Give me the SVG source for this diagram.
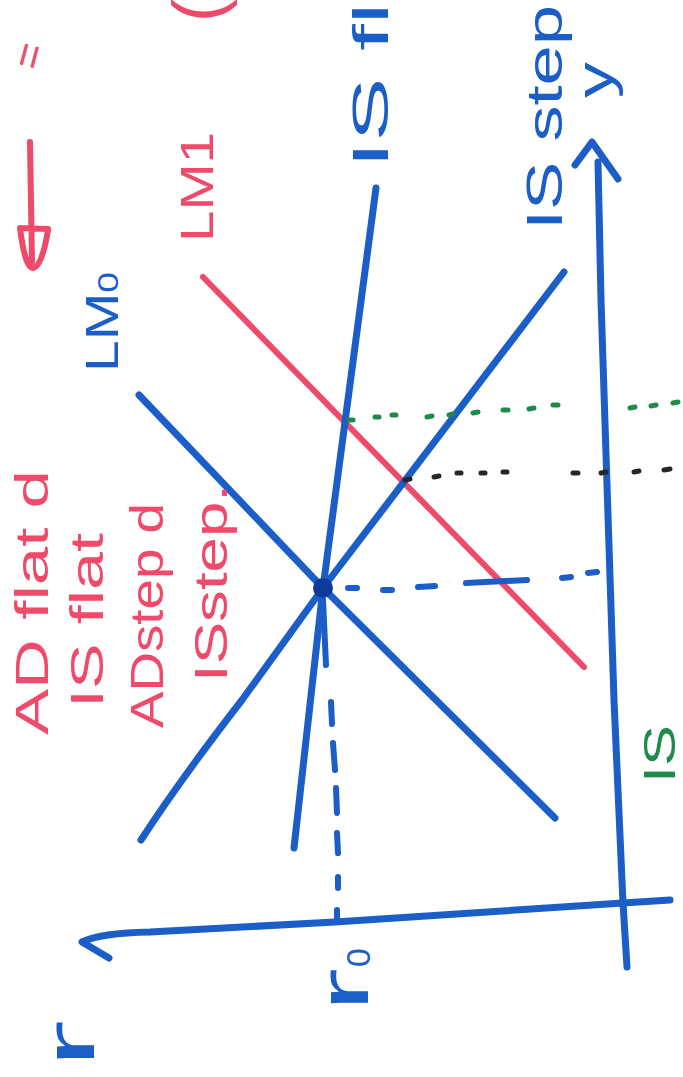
<svg xmlns="http://www.w3.org/2000/svg" width="683" height="1077" viewBox="0 0 683 1077">
<style>
.bg{fill:#ffffff}
.b{stroke:#1b5ec8;stroke-width:7;fill:none;stroke-linecap:round;stroke-linejoin:round}
.r{stroke:#ef4a6a;stroke-width:6;fill:none;stroke-linecap:round;stroke-linejoin:round}
.bd{stroke:#1b5ec8;stroke-width:6;fill:none;stroke-linecap:round}
.gd{stroke:#1e8a4c;stroke-width:5;fill:none;stroke-linecap:round}
.kd{stroke:#262626;stroke-width:5;fill:none;stroke-linecap:round}
text{font-family:"Liberation Sans","DejaVu Sans",sans-serif}
.tb{fill:#1b5ec8}
.tr{fill:#ef4a6a}
.tg{fill:#1e8a4c}
</style>
<rect class="bg" x="0" y="0" width="683" height="1077"/>

<g id="connectors">
  <path id="r-axis" class="b" d="M670,900 L623,903 L335,922 L150,932 Q100,933 82,942 L109,958"/>
  <path id="y-axis" class="b" d="M627,967 L623,903 L614,700 L601,300 L598,162"/>
  <path id="y-arrow" class="b" d="M575,165 L592,142 L618,179"/>
  <path id="LM0-line" class="b" d="M139,395 L323,588 L555,818"/>
  <path id="LM1-line" class="r" d="M203,277 L584,667"/>
  <path id="ISflat-line" class="b" d="M376,188 L323,588 L294,848"/>
  <path id="ISsteep-line" class="b" d="M564,272 L323,588 L242,700 Q180,780 141,840"/>
  <path id="r0-dash" class="bd" d="M323,600 L326,665 M331,702 L332,724 M333,743 L335,770 M336,788 L337,813 M337,833 L338,853 M338,877 L338,888 M337,910 L337,920"/>
  <path id="y0-dash" class="bd" d="M348,588 L357,588 M383,590 L392,590 M418,587 L435,586 M466,583 L527,580 M562,578 L571,577 M588,573 L597,572"/>
  <path id="green-dots" class="gd" d="M349,420 L353,420 M375,417 L379,417 M392,415 L396,415 M427,417 L432,416 M449,415 L453,414 M473,413 L478,412 M503,410 L508,410 M529,409 L534,408 M553,405 L558,405 M630,408 L635,407 M651,406 L656,405 M673,403 L678,402"/>
  <path id="black-dots" class="kd" d="M405,480 L410,479 M434,477 L439,476 M457,473 L461,473 M481,473 L485,473 M503,472 L507,472 M573,473 L578,473 M601,473 L606,472 M634,472 L639,471 M664,470 L670,469"/>
  <circle id="eq-dot" cx="323" cy="588" r="10" fill="#0d3a9c"/>
  <path id="red-arrow" class="r" stroke-width="5" d="M30,142 L32,262 M20,228 L48,229 M20,228 Q25,268 33,268 Q42,267 48,230"/>
</g>

<g id="label-ADflat"><text class="tr" font-size="46" transform="translate(48,735) rotate(-90)" textLength="265" lengthAdjust="spacingAndGlyphs">AD flat d</text></g>
<g id="label-ISflat-red"><text class="tr" font-size="46" transform="translate(103,708) rotate(-90)" textLength="175" lengthAdjust="spacingAndGlyphs">IS flat</text></g>
<g id="label-ADstep"><text class="tr" font-size="46" transform="translate(163,728) rotate(-90)" textLength="225" lengthAdjust="spacingAndGlyphs">ADstep d</text></g>
<g id="label-ISstep-red"><text class="tr" font-size="46" transform="translate(227,682) rotate(-90)" textLength="198" lengthAdjust="spacingAndGlyphs">ISstep.</text></g>

<g id="label-LM0"><text class="tb" font-size="46" transform="translate(118,372) rotate(-90)" textLength="100" lengthAdjust="spacingAndGlyphs">LM<tspan font-size="30">0</tspan></text></g>
<g id="label-LM1"><text class="tr" font-size="46" transform="translate(213,242) rotate(-90)" textLength="110" lengthAdjust="spacingAndGlyphs">LM1</text></g>
<g id="label-ISflat"><text class="tb" font-size="50" transform="translate(388,168) rotate(-90)" textLength="245" lengthAdjust="spacingAndGlyphs">IS flat</text></g>
<g id="label-ISstep"><text class="tb" font-size="50" transform="translate(562,230) rotate(-90)" textLength="225" lengthAdjust="spacingAndGlyphs">IS step</text></g>
<g id="label-y"><text class="tb" font-size="52" transform="translate(612,98) rotate(-90)" textLength="36" lengthAdjust="spacingAndGlyphs">y</text></g>
<g id="label-IS-green"><text class="tg" font-size="44" transform="translate(675,783) rotate(-90)" textLength="58" lengthAdjust="spacingAndGlyphs">IS</text></g>
<g id="label-r"><text class="tb" font-size="70" transform="translate(94,1068) rotate(-90)" textLength="48" lengthAdjust="spacingAndGlyphs">r</text></g>
<g id="label-r0">
  <text class="tb" font-size="70" transform="translate(368,1012) rotate(-90)" textLength="44" lengthAdjust="spacingAndGlyphs">r</text>
  <text class="tb" font-size="34" transform="translate(370,967) rotate(-90)">0</text>
</g>
<g id="mark-quote"><text class="tr" font-size="44" transform="translate(40,72) rotate(-75)">=</text></g>
<g id="mark-paren"><text class="tr" font-size="70" transform="translate(222,22) rotate(-90)">(</text></g>
</svg>
